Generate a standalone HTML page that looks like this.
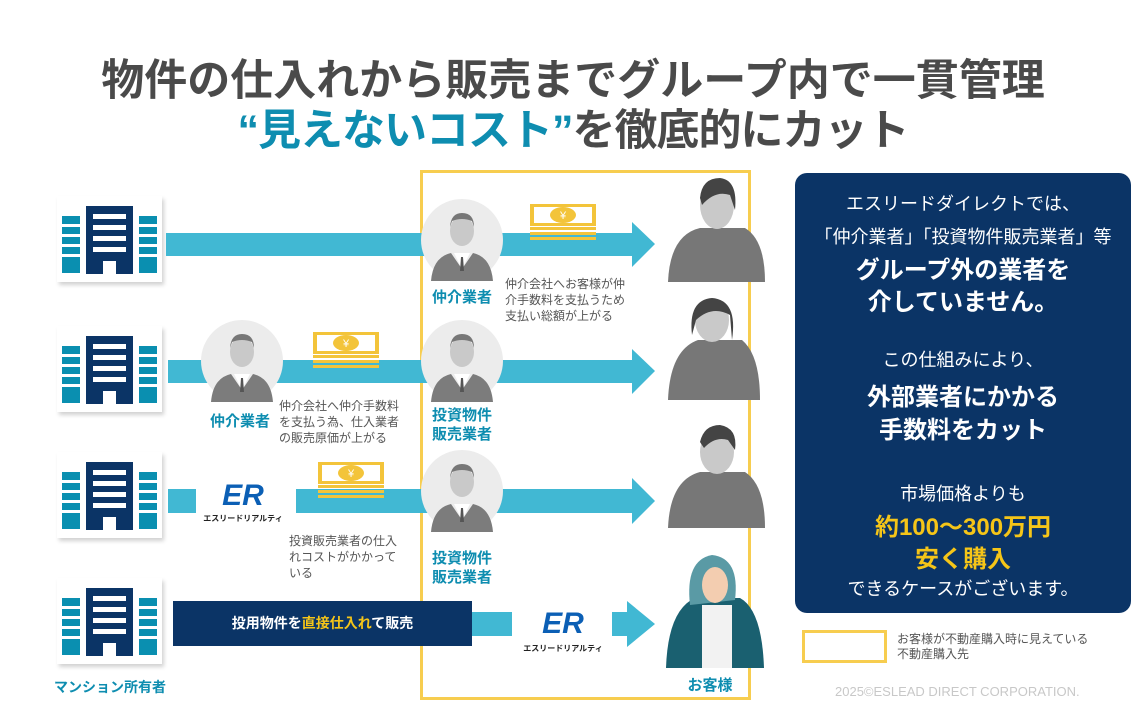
<!DOCTYPE html>
<html><head><meta charset="utf-8"><style>
*{margin:0;padding:0;box-sizing:border-box}
body{width:1146px;height:717px;background:#fff;position:relative;overflow:hidden;font-family:"Liberation Sans","Noto Sans CJK JP",sans-serif}
.a{position:absolute}
.t{position:absolute;white-space:nowrap}
.bld{position:absolute;width:105px;height:86px;background:#fff;box-shadow:2px 3px 4px rgba(0,0,0,.18)}
.lbl{color:#0e8db0;font-weight:bold;font-size:15px;line-height:19px;text-align:center}
.note{color:#555;font-size:12px;line-height:16px}
.pan{position:absolute;left:795px;top:173px;width:336px;height:440px;background:#0b3466;border-radius:12px;color:#fff;text-align:center}
.pan div{position:absolute;left:0;width:336px;white-space:nowrap}
</style></head><body>

<div class="t" style="left:0;width:1146px;text-align:center;top:46px;font-size:43px;font-weight:bold;color:#4a4a4a;letter-spacing:0px">物件の仕入れから販売までグループ内で一貫管理</div>
<div class="t" style="left:0;width:1146px;text-align:center;top:96px;font-size:43px;font-weight:bold;color:#4a4a4a;letter-spacing:-1px"><span style="color:#0e8db0">“見えないコスト”</span>を徹底的にカット</div>

<div class="a" style="left:420px;top:170px;width:331px;height:530px;border:3px solid #f7cd4f"></div>

<svg width="0" height="0" style="position:absolute"><defs>
<g id="b"><rect x="5" y="20" width="18" height="57" fill="#0a8fb0"/><rect x="82" y="20" width="18" height="57" fill="#0a8fb0"/>
<g fill="#fff"><rect x="5" y="28" width="18" height="3"/><rect x="5" y="38" width="18" height="3"/><rect x="5" y="48" width="18" height="3"/><rect x="5" y="58" width="18" height="3"/><rect x="82" y="28" width="18" height="3"/><rect x="82" y="38" width="18" height="3"/><rect x="82" y="48" width="18" height="3"/><rect x="82" y="58" width="18" height="3"/></g>
<rect x="29" y="10" width="47" height="68" fill="#0b3466"/><g fill="#fff"><rect x="36" y="18" width="33" height="5"/><rect x="36" y="29" width="33" height="5"/><rect x="36" y="40" width="33" height="5"/><rect x="36" y="51" width="33" height="5"/><rect x="46" y="65" width="13" height="13"/></g></g>
<g id="p"><circle cx="41" cy="41" r="41" fill="#ececec"/><ellipse cx="41" cy="32" rx="12" ry="15" fill="#c9c9c9"/><path d="M29 28 Q30 14 41 14 Q53 14 53 28 L51 22 Q41 18 31 22Z" fill="#777"/><path d="M10 82 Q12 58 30 54 L41 70 L52 54 Q70 58 72 82Z" fill="#7c7c7c"/><path d="M33 54 L41 70 L49 54Z" fill="#fff"/><path d="M40 58 L42 58 L43 72 L39 72Z" fill="#555"/></g>
<g id="m"><rect x="0" y="4" width="66" height="22" fill="#f3c43a"/><rect x="4" y="7" width="58" height="16" fill="#fff"/><ellipse cx="33" cy="15" rx="13" ry="8" fill="#f3c43a"/><text x="33" y="19" font-size="11" fill="#fff" text-anchor="middle" font-family="Liberation Sans">¥</text><rect x="0" y="27" width="66" height="3" fill="#f3c43a"/><rect x="0" y="32" width="66" height="3" fill="#f3c43a"/><rect x="0" y="37" width="66" height="3" fill="#f3c43a"/></g>
</defs></svg>
<div class="bld" style="left:57px;top:196px"><svg width="105" height="86"><use href="#b"/></svg></div>
<div class="bld" style="left:57px;top:326px"><svg width="105" height="86"><use href="#b"/></svg></div>
<div class="bld" style="left:57px;top:452px"><svg width="105" height="86"><use href="#b"/></svg></div>
<div class="bld" style="left:57px;top:578px"><svg width="105" height="86"><use href="#b"/></svg></div>

<svg class="a" style="left:0;top:0" width="1146" height="717">
<rect x="166" y="233" width="468" height="23" fill="#41b8d3"/><polygon points="632,222 655,244 632,267" fill="#41b8d3"/>
<rect x="168" y="360" width="466" height="23" fill="#41b8d3"/><polygon points="632,349 655,371 632,394" fill="#41b8d3"/>
<rect x="168" y="489" width="28" height="24" fill="#41b8d3"/><rect x="296" y="489" width="338" height="24" fill="#41b8d3"/><polygon points="632,478 655,501 632,524" fill="#41b8d3"/>
<rect x="472" y="612" width="40" height="24" fill="#41b8d3"/><rect x="612" y="612" width="22" height="24" fill="#41b8d3"/><polygon points="627,601 655,624 627,647" fill="#41b8d3"/>
<g transform="translate(530,200)"><use href="#m"/></g>
<g transform="translate(313,328)"><use href="#m"/></g>
<g transform="translate(318,458)"><use href="#m"/></g>
<g transform="translate(421,199)"><use href="#p"/></g>
<g transform="translate(201,320)"><use href="#p"/></g>
<g transform="translate(421,320)"><use href="#p"/></g>
<g transform="translate(421,450)"><use href="#p"/></g>
<g fill="#777"><path d="M668 282 Q670 235 700 228 L745 228 Q765 240 765 282Z"/><ellipse cx="717" cy="205" rx="17" ry="24" fill="#c9c9c9"/><path d="M700 198 Q702 178 720 178 Q738 180 735 210 L730 195 Q715 190 702 205Z" fill="#444"/>
<path d="M668 400 Q670 350 698 340 L742 340 Q760 355 760 400Z"/><ellipse cx="712" cy="320" rx="17" ry="22" fill="#c9c9c9"/><path d="M692 335 Q688 300 712 298 Q738 300 732 340 L730 315 Q712 305 696 320Z" fill="#444"/>
<path d="M668 528 Q670 480 700 472 L745 472 Q765 485 765 528Z"/><ellipse cx="717" cy="452" rx="17" ry="22" fill="#c9c9c9"/><path d="M700 442 Q704 425 720 425 Q738 428 735 450 L728 440 Q715 436 704 448Z" fill="#444"/></g>
<path d="M666 668 Q668 610 695 598 L740 598 Q762 610 764 668Z" fill="#1a6070"/><rect x="702" y="605" width="30" height="63" fill="#f2f2f2"/><path d="M690 605 Q685 560 712 555 Q740 558 735 600Z" fill="#5a9aa5"/><ellipse cx="715" cy="585" rx="13" ry="18" fill="#f3cdb0"/>
<text x="243" y="505" font-size="30" font-weight="bold" font-style="italic" fill="#0b5fb5" text-anchor="middle" font-family="Liberation Sans">ER</text>
<text x="243" y="521" font-size="8" font-weight="bold" fill="#222" text-anchor="middle" font-family="Noto Sans CJK JP">エスリードリアルティ</text>
<text x="563" y="633" font-size="30" font-weight="bold" font-style="italic" fill="#0b5fb5" text-anchor="middle" font-family="Liberation Sans">ER</text>
<text x="563" y="651" font-size="8" font-weight="bold" fill="#222" text-anchor="middle" font-family="Noto Sans CJK JP">エスリードリアルティ</text>
</svg>

<div class="t lbl" style="left:422px;top:288px;width:80px">仲介業者</div>
<div class="t lbl" style="left:200px;top:412px;width:80px">仲介業者</div>
<div class="t lbl" style="left:422px;top:406px;width:80px">投資物件<br>販売業者</div>
<div class="t lbl" style="left:422px;top:549px;width:80px">投資物件<br>販売業者</div>
<div class="t lbl" style="left:670px;top:676px;width:80px">お客様</div>
<div class="t lbl" style="left:40px;top:678px;width:140px;font-size:14px">マンション所有者</div>
<div class="t note" style="left:505px;top:276px">仲介会社へお客様が仲<br>介手数料を支払うため<br>支払い総額が上がる</div>
<div class="t note" style="left:279px;top:398px">仲介会社へ仲介手数料<br>を支払う為、仕入業者<br>の販売原価が上がる</div>
<div class="t note" style="left:289px;top:533px">投資販売業者の仕入<br>れコストがかかって<br>いる</div>

<div class="a" style="left:173px;top:601px;width:299px;height:45px;background:#0b3466;color:#fff;font-weight:bold;font-size:14px;line-height:45px;text-align:center">投用物件を<span style="color:#f5c518">直接仕入れ</span>て販売</div>

<div class="pan">
<div style="top:17px;font-size:18px">エスリードダイレクトでは、</div>
<div style="top:50px;font-size:18px">「仲介業者」「投資物件販売業者」等</div>
<div style="top:77px;font-size:24px;font-weight:bold">グループ外の業者を</div>
<div style="top:109px;font-size:24px;font-weight:bold">介していません。</div>
<div style="top:173px;font-size:18px">この仕組みにより、</div>
<div style="top:204px;font-size:24px;font-weight:bold">外部業者にかかる</div>
<div style="top:237px;font-size:24px;font-weight:bold">手数料をカット</div>
<div style="top:307px;font-size:18px">市場価格よりも</div>
<div style="top:334px;font-size:24px;font-weight:bold;color:#f5c518">約100～300万円</div>
<div style="top:366px;font-size:24px;font-weight:bold;color:#f5c518">安く購入</div>
<div style="top:402px;font-size:18px">できるケースがございます。</div>
</div>

<div class="a" style="left:802px;top:630px;width:85px;height:33px;border:3px solid #f7cd4f"></div>
<div class="t" style="left:897px;top:632px;font-size:12px;line-height:15px;color:#555">お客様が不動産購入時に見えている<br>不動産購入先</div>
<div class="t" style="left:835px;top:684px;font-size:13px;color:#c8c8c8">2025©ESLEAD DIRECT CORPORATION.</div>
</body></html>
